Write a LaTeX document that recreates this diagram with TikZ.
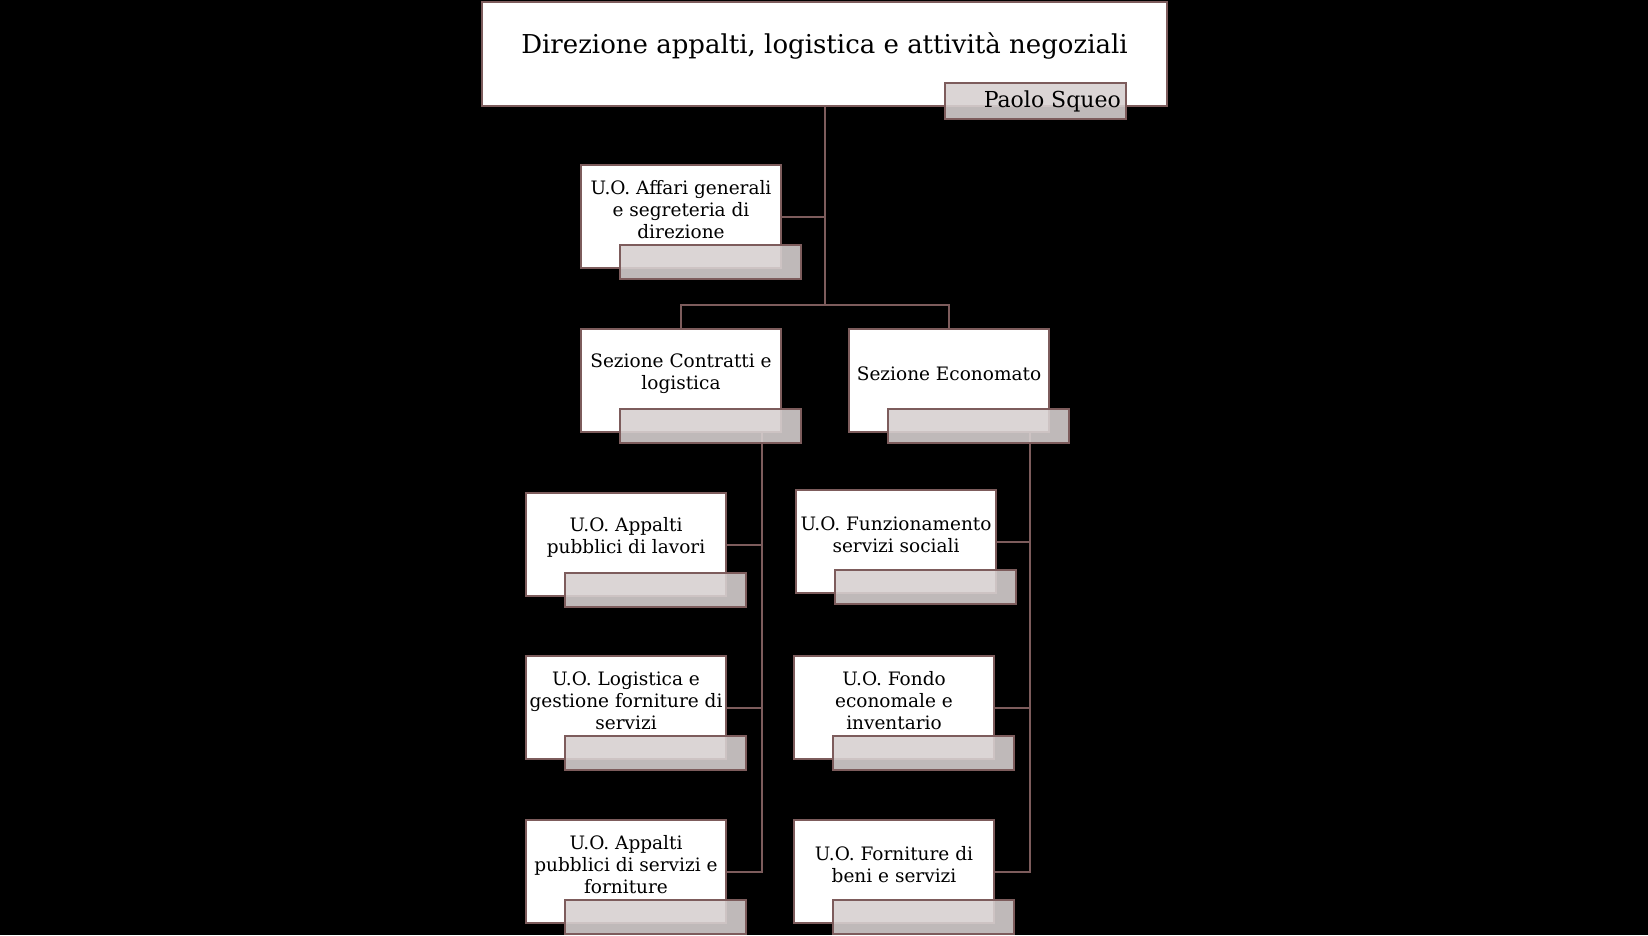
\documentclass[tikz,border=0pt]{standalone}
\usepackage{fontspec}
\setmainfont{DejaVu Serif}
\definecolor{bordo}{HTML}{7D5C5C}
\definecolor{grigio}{HTML}{D7D0D0}
\newcommand\titolof{\fontsize{26}{31}\selectfont}
\newcommand\nomef{\fontsize{22}{26}\selectfont}
\newcommand\vocef{\fontsize{18.5}{22}\selectfont}
% riquadro di un ufficio: nome, x, y (angolo in alto a sinistra), testo
\newcommand\ufficio[4]{\node[riquadro,anchor=north west] (#1) at (#2,#3) {};%
  \node[font=\vocef,align=center,inner sep=0] (#1-t) at ([yshift=7pt]#1.center) {#4};}

\begin{document}
\begin{tikzpicture}[x=1pt,y=-1pt]
\useasboundingbox (0,0) rectangle (1648,935);
\tikzset{riquadro/.style={draw=bordo,line width=2pt,fill=white,inner sep=0,
    minimum width=200,minimum height=103},
  linguetta/.style={draw=bordo,line width=2pt,fill=grigio,fill opacity=0.89,inner sep=0,
    minimum width=181,minimum height=34},
  filo/.style={bordo,line width=2pt}}
\fill[black] (0,0) rectangle (1648,935);

% ---- Direzione ---------------------------------------------------------------
\node[riquadro,anchor=north west,minimum width=685,minimum height=104] (direzione) at (481,1) {};
\node[font=\titolof,inner sep=0] (direzione-t) at ([yshift=8pt]direzione.center)
  {Direzione appalti, logistica e attività negoziali};

% ---- Uffici ------------------------------------------------------------------
\ufficio{affari}{580}{164}{U.O. Affari generali\\e segreteria di\\direzione}
\ufficio{contratti}{580}{328}{Sezione Contratti e\\logistica}
\ufficio{economato}{848}{328}{Sezione Economato}
\ufficio{lavori}{525}{492}{U.O. Appalti\\pubblici di lavori}
\ufficio{logistica}{525}{655}{U.O. Logistica e\\gestione forniture di\\servizi}
\ufficio{servizi}{525}{819}{U.O. Appalti\\pubblici di servizi e\\forniture}
\ufficio{funzionamento}{795}{489}{U.O. Funzionamento\\servizi sociali}
\ufficio{fondo}{793}{655}{U.O. Fondo\\economale e\\inventario}
\ufficio{forniture}{793}{819}{U.O. Forniture di\\beni e servizi}

% ---- Collegamenti (sotto le linguette, che le lasciano trasparire) -----------
\coordinate (biforca) at ([yshift=-198pt]direzione.south);
\draw[filo] (direzione.south) -- (biforca);
\draw[filo] (affari.east) -- (affari.east -| biforca);
\draw[filo] (contratti.north) |- (biforca) -| (economato.north);
\coordinate (asse-c) at ([xshift=-20pt]contratti.south east);
\coordinate (asse-e) at ([xshift=-20pt]economato.south east);
\draw[filo] (asse-c) |- (servizi.east);
\foreach \n in {lavori,logistica} {\draw[filo] (\n.east) -- (\n.east -| asse-c);}
\draw[filo] (asse-e) |- (forniture.east);
\foreach \n in {funzionamento,fondo} {\draw[filo] (\n.east) -- (\n.east -| asse-e);}

% ---- Linguette ---------------------------------------------------------------
\foreach \n in {affari,contratti,economato,lavori,logistica,servizi,funzionamento,fondo,forniture}
  {\node[linguetta,anchor=north west] (\n-l) at ([xshift=39pt,yshift=-80pt]\n.north west) {};}
\node[linguetta,anchor=north west,minimum height=36] (direzione-l)
  at ([xshift=463pt,yshift=-81pt]direzione.north west) {};
\node[font=\nomef,anchor=east,inner sep=0] (direzione-n) at ([xshift=-6pt]direzione-l.east) {Paolo Squeo};
\end{tikzpicture}
\end{document}
